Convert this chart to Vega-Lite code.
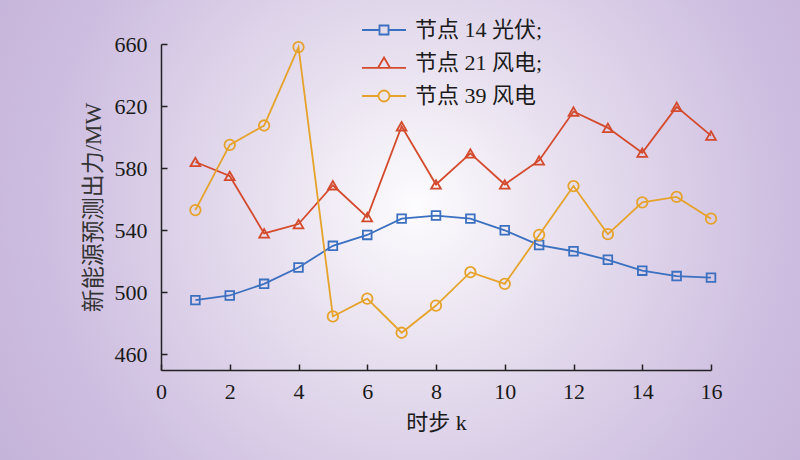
{
  "$schema": "https://vega.github.io/schema/vega-lite/v6.json",
  "width": 800,
  "height": 460,
  "autosize": {"type": "none"},
  "padding": 0,
  "background": "#c5b4d9",
  "config": {
    "view": {
      "stroke": null,
      "fill": {
        "gradient": "radial",
        "x1": 0.52, "y1": 0.47, "r1": 0,
        "x2": 0.52, "y2": 0.47, "r2": 0.62,
        "stops": [
          {"offset": 0, "color": "#fdfcfe"},
          {"offset": 0.3, "color": "#e8e0ef"},
          {"offset": 0.75, "color": "#cdbde0"},
          {"offset": 1, "color": "#c4b3d8"}
        ]
      }
    },
    "font": "Liberation Serif, Noto Sans CJK SC"
  },
  "datasets": {
    "main": [
      {"k": 1, "series": "节点 14 光伏;", "v": 495},
      {"k": 2, "series": "节点 14 光伏;", "v": 498},
      {"k": 3, "series": "节点 14 光伏;", "v": 505.5},
      {"k": 4, "series": "节点 14 光伏;", "v": 516},
      {"k": 5, "series": "节点 14 光伏;", "v": 530},
      {"k": 6, "series": "节点 14 光伏;", "v": 537},
      {"k": 7, "series": "节点 14 光伏;", "v": 547.5},
      {"k": 8, "series": "节点 14 光伏;", "v": 549.5},
      {"k": 9, "series": "节点 14 光伏;", "v": 547.5},
      {"k": 10, "series": "节点 14 光伏;", "v": 540},
      {"k": 11, "series": "节点 14 光伏;", "v": 530.5},
      {"k": 12, "series": "节点 14 光伏;", "v": 526.5},
      {"k": 13, "series": "节点 14 光伏;", "v": 521},
      {"k": 14, "series": "节点 14 光伏;", "v": 514},
      {"k": 15, "series": "节点 14 光伏;", "v": 510.5},
      {"k": 16, "series": "节点 14 光伏;", "v": 509.5},
      {"k": 1, "series": "节点 21 风电;", "v": 584},
      {"k": 2, "series": "节点 21 风电;", "v": 575},
      {"k": 3, "series": "节点 21 风电;", "v": 538},
      {"k": 4, "series": "节点 21 风电;", "v": 544},
      {"k": 5, "series": "节点 21 风电;", "v": 569},
      {"k": 6, "series": "节点 21 风电;", "v": 548.5},
      {"k": 7, "series": "节点 21 风电;", "v": 607},
      {"k": 8, "series": "节点 21 风电;", "v": 569.5},
      {"k": 9, "series": "节点 21 风电;", "v": 589.5},
      {"k": 10, "series": "节点 21 风电;", "v": 569.5},
      {"k": 11, "series": "节点 21 风电;", "v": 585},
      {"k": 12, "series": "节点 21 风电;", "v": 616.5},
      {"k": 13, "series": "节点 21 风电;", "v": 606},
      {"k": 14, "series": "节点 21 风电;", "v": 590},
      {"k": 15, "series": "节点 21 风电;", "v": 619.5},
      {"k": 16, "series": "节点 21 风电;", "v": 601},
      {"k": 1, "series": "节点 39 风电", "v": 553},
      {"k": 2, "series": "节点 39 风电", "v": 595},
      {"k": 3, "series": "节点 39 风电", "v": 607.5},
      {"k": 4, "series": "节点 39 风电", "v": 658},
      {"k": 5, "series": "节点 39 风电", "v": 484.5},
      {"k": 6, "series": "节点 39 风电", "v": 496},
      {"k": 7, "series": "节点 39 风电", "v": 474},
      {"k": 8, "series": "节点 39 风电", "v": 491.5},
      {"k": 9, "series": "节点 39 风电", "v": 513},
      {"k": 10, "series": "节点 39 风电", "v": 505.5},
      {"k": 11, "series": "节点 39 风电", "v": 537},
      {"k": 12, "series": "节点 39 风电", "v": 568.5},
      {"k": 13, "series": "节点 39 风电", "v": 537.5},
      {"k": 14, "series": "节点 39 风电", "v": 558},
      {"k": 15, "series": "节点 39 风电", "v": 561.5},
      {"k": 16, "series": "节点 39 风电", "v": 547.5}
    ]
  },
  "data": {"name": "main"},
  "encoding": {
    "x": {
      "field": "k", "type": "quantitative",
      "scale": {"domain": [0, 16], "range": [161, 711], "nice": false, "zero": false},
      "axis": {
        "title": "时步 k",
        "values": [0, 2, 4, 6, 8, 10, 12, 14, 16],
        "offset": -90,
        "grid": false,
        "domainColor": "#222222", "domainWidth": 1.5,
        "tickColor": "#222222", "tickWidth": 1.5, "tickSize": -6,
        "labelFont": "Liberation Serif", "labelFontSize": 22, "labelColor": "#1a1a1a",
        "labelPadding": 17, "labelFlush": false, "labelOverlap": false,
        "titleFont": "Liberation Serif, Noto Sans CJK SC", "titleFontSize": 22, "titleFontWeight": "normal",
        "titleColor": "#1a1a1a", "titlePadding": 10
      }
    },
    "y": {
      "field": "v", "type": "quantitative",
      "scale": {"domain": [450, 660], "range": [370, 44], "nice": false, "zero": false},
      "axis": {
        "title": "新能源预测出力/MW",
        "values": [460, 500, 540, 580, 620, 660],
        "offset": -161,
        "grid": false,
        "domainColor": "#222222", "domainWidth": 1.5,
        "tickColor": "#222222", "tickWidth": 1.5, "tickSize": -6,
        "labelFont": "Liberation Serif", "labelFontSize": 22, "labelColor": "#1a1a1a",
        "labelPadding": 20, "labelFlush": false, "labelOverlap": false,
        "titleFont": "Liberation Serif, Noto Sans CJK SC", "titleFontSize": 23, "titleFontWeight": "normal",
        "titleColor": "#333333", "titlePadding": 9
      }
    }
  },
  "layer": [
    {
      "mark": {"type": "line", "strokeWidth": 1.8},
      "encoding": {
        "color": {
          "field": "series", "type": "nominal",
          "scale": {
            "domain": ["节点 14 光伏;", "节点 21 风电;", "节点 39 风电"],
            "range": ["#3b70c0", "#d44a2d", "#e6a32b"]
          },
          "legend": {
            "title": null,
            "orient": "none",
            "legendX": 372,
            "legendY": 18,
            "padding": 0,
            "symbolType": "stroke",
            "symbolSize": 484,
            "symbolStrokeWidth": 1.8,
            "rowPadding": 10,
            "labelOffset": 19,
            "labelFont": "Liberation Serif, Noto Sans CJK SC",
            "labelFontSize": 22,
            "labelColor": "#1a1a1a",
            "labelLimit": 300,
            "encode": {
              "symbols": {
                "update": {
                  "fill": {"value": "transparent"},
                  "shape": {"signal": "datum.value == '节点 14 光伏;' ? 'M-2,0H-0.41M0.41,0H2M-0.41,-0.41H0.41V0.41H-0.41Z' : (datum.value == '节点 21 风电;' ? 'M-2,0.45H-0.55M0.55,0.45H2M0,-0.5L0.55,0.45L-0.55,0.45Z' : 'M-2,0H-0.5M0.5,0H2M0.5,0A0.5,0.5 0 1,1 -0.5,0A0.5,0.5 0 1,1 0.5,0Z')"}
                }
              }
            }
          }
        }
      }
    },
    {
      "transform": [{"filter": "datum.series == '节点 14 光伏;'"}],
      "mark": {"type": "point", "shape": "square", "filled": false, "strokeWidth": 1.8, "opacity": 1, "size": 75, "color": "#3b70c0"}
    },
    {
      "transform": [{"filter": "datum.series == '节点 21 风电;'"}],
      "mark": {"type": "point", "shape": "triangle-up", "filled": false, "strokeWidth": 1.8, "opacity": 1, "size": 95, "color": "#d44a2d"}
    },
    {
      "transform": [{"filter": "datum.series == '节点 39 风电'"}],
      "mark": {"type": "point", "shape": "circle", "filled": false, "strokeWidth": 1.8, "opacity": 1, "size": 110, "color": "#e6a32b"}
    }
  ]
}
